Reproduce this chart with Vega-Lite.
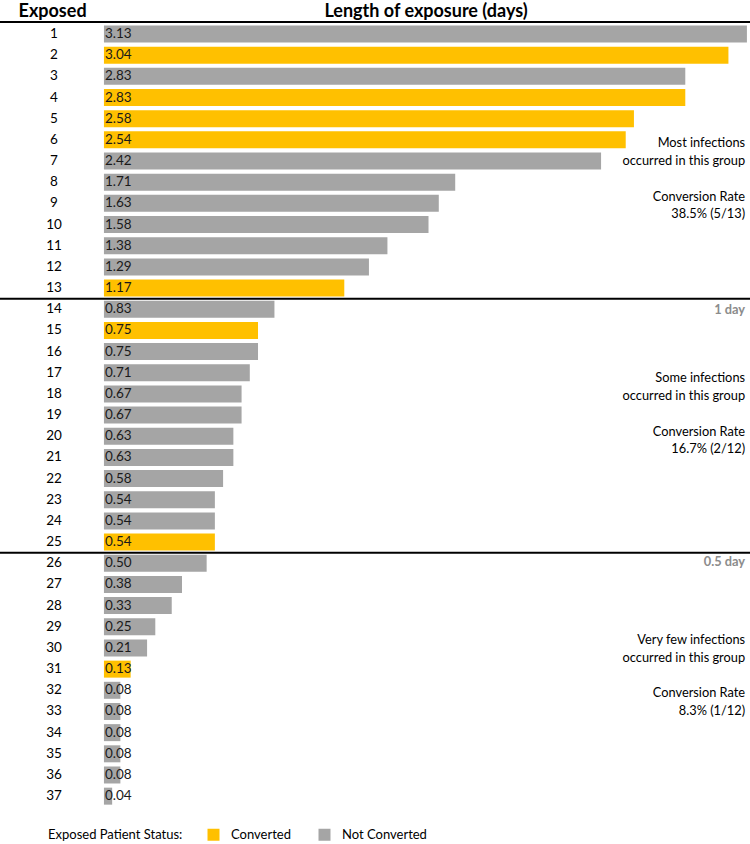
{
  "$schema": "https://vega.github.io/schema/vega-lite/v6.json",
  "width": 750,
  "height": 844,
  "autosize": "none",
  "padding": 0,
  "background": "white",
  "config": {"view": {"stroke": null}, "font": "Lato", "text": {"font": "Lato"}},
  "datasets": {
    "bars": [
      {"row": 1, "value": 3.13, "status": "Not Converted"},
      {"row": 2, "value": 3.04, "status": "Converted"},
      {"row": 3, "value": 2.83, "status": "Not Converted"},
      {"row": 4, "value": 2.83, "status": "Converted"},
      {"row": 5, "value": 2.58, "status": "Converted"},
      {"row": 6, "value": 2.54, "status": "Converted"},
      {"row": 7, "value": 2.42, "status": "Not Converted"},
      {"row": 8, "value": 1.71, "status": "Not Converted"},
      {"row": 9, "value": 1.63, "status": "Not Converted"},
      {"row": 10, "value": 1.58, "status": "Not Converted"},
      {"row": 11, "value": 1.38, "status": "Not Converted"},
      {"row": 12, "value": 1.29, "status": "Not Converted"},
      {"row": 13, "value": 1.17, "status": "Converted"},
      {"row": 14, "value": 0.83, "status": "Not Converted"},
      {"row": 15, "value": 0.75, "status": "Converted"},
      {"row": 16, "value": 0.75, "status": "Not Converted"},
      {"row": 17, "value": 0.71, "status": "Not Converted"},
      {"row": 18, "value": 0.67, "status": "Not Converted"},
      {"row": 19, "value": 0.67, "status": "Not Converted"},
      {"row": 20, "value": 0.63, "status": "Not Converted"},
      {"row": 21, "value": 0.63, "status": "Not Converted"},
      {"row": 22, "value": 0.58, "status": "Not Converted"},
      {"row": 23, "value": 0.54, "status": "Not Converted"},
      {"row": 24, "value": 0.54, "status": "Not Converted"},
      {"row": 25, "value": 0.54, "status": "Converted"},
      {"row": 26, "value": 0.50, "status": "Not Converted"},
      {"row": 27, "value": 0.38, "status": "Not Converted"},
      {"row": 28, "value": 0.33, "status": "Not Converted"},
      {"row": 29, "value": 0.25, "status": "Not Converted"},
      {"row": 30, "value": 0.21, "status": "Not Converted"},
      {"row": 31, "value": 0.13, "status": "Converted"},
      {"row": 32, "value": 0.08, "status": "Not Converted"},
      {"row": 33, "value": 0.08, "status": "Not Converted"},
      {"row": 34, "value": 0.08, "status": "Not Converted"},
      {"row": 35, "value": 0.08, "status": "Not Converted"},
      {"row": 36, "value": 0.08, "status": "Not Converted"},
      {"row": 37, "value": 0.04, "status": "Not Converted"}
    ],
    "separators": [{"row": 0.43}, {"row": 13.5}, {"row": 25.5}],
    "headers": [
      {"label": "Exposed", "at": -0.25, "row": -0.06},
      {"label": "Length of exposure (days)", "at": 1.568, "row": -0.06}
    ],
    "notes": [
      {"text": "Most infections", "row": 6.15},
      {"text": "occurred in this group", "row": 7.0},
      {"text": "Conversion Rate", "row": 8.7},
      {"text": "38.5% (5/13)", "row": 9.5},
      {"text": "Some infections", "row": 17.25},
      {"text": "occurred in this group", "row": 18.1},
      {"text": "Conversion Rate", "row": 19.8},
      {"text": "16.7% (2/12)", "row": 20.6},
      {"text": "Very few infections", "row": 29.63},
      {"text": "occurred in this group", "row": 30.47},
      {"text": "Conversion Rate", "row": 32.13},
      {"text": "8.3% (1/12)", "row": 32.98}
    ],
    "thresholds": [
      {"text": "1 day", "row": 14.04},
      {"text": "0.5 day", "row": 25.94}
    ]
  },
  "layer": [
    {
      "data": {"name": "bars"},
      "mark": {"type": "bar", "orient": "horizontal", "size": 17},
      "encoding": {
        "y": {"field": "row", "type": "quantitative", "scale": {"domain": [-0.606, 39.26], "reverse": true, "nice": false, "zero": false, "padding": 0}, "axis": null},
        "x": {"field": "value", "type": "quantitative", "scale": {"domain": [-0.506, 3.145], "nice": false, "zero": false, "padding": 0}, "axis": null},
        "x2": {"datum": 0},
        "color": {
          "field": "status", "type": "nominal",
          "scale": {"domain": ["Converted", "Not Converted"], "range": ["#FFC000", "#A5A5A5"]},
          "legend": {
            "orient": "none", "legendX": 48, "legendY": 828,
            "direction": "horizontal", "title": "Exposed Patient Status:",
            "titleOrient": "left", "titleFont": "Lato", "titleFontWeight": "normal", "titleFontSize": 13, "titleColor": "#000",
            "titlePadding": 24, "titleBaseline": "middle",
            "symbolType": "square", "symbolSize": 144, "symbolStrokeWidth": 0,
            "labelFont": "Lato", "labelFontSize": 13, "labelColor": "#000", "labelOffset": 11,
            "columnPadding": 27
          }
        }
      }
    },
    {
      "data": {"name": "bars"},
      "mark": {"type": "text", "align": "left", "baseline": "middle", "dx": 1, "fontSize": 13.5, "color": "#1a1a1a"},
      "encoding": {
        "y": {"field": "row", "type": "quantitative"},
        "x": {"datum": 0, "type": "quantitative"},
        "text": {"field": "value", "type": "quantitative", "format": ".2f"}
      }
    },
    {
      "data": {"name": "bars"},
      "mark": {"type": "text", "align": "center", "baseline": "middle", "fontSize": 13.5, "color": "#000"},
      "encoding": {
        "y": {"field": "row", "type": "quantitative"},
        "x": {"datum": -0.243, "type": "quantitative"},
        "text": {"field": "row", "type": "quantitative"}
      }
    },
    {
      "data": {"name": "separators"},
      "mark": {"type": "rule", "strokeWidth": 2, "color": "#000"},
      "encoding": {"y": {"field": "row", "type": "quantitative"}}
    },
    {
      "data": {"name": "headers"},
      "mark": {"type": "text", "align": "center", "baseline": "middle", "fontSize": 18, "fontWeight": "bold", "color": "#000"},
      "encoding": {
        "y": {"field": "row", "type": "quantitative"},
        "x": {"field": "at", "type": "quantitative"},
        "text": {"field": "label"}
      }
    },
    {
      "data": {"name": "notes"},
      "mark": {"type": "text", "align": "right", "baseline": "middle", "fontSize": 12.8, "color": "#000"},
      "encoding": {
        "y": {"field": "row", "type": "quantitative"},
        "x": {"datum": 3.121, "type": "quantitative"},
        "text": {"field": "text"}
      }
    },
    {
      "data": {"name": "thresholds"},
      "mark": {"type": "text", "align": "right", "baseline": "middle", "fontSize": 12.8, "fontWeight": "bold", "color": "#8c8c8c"},
      "encoding": {
        "y": {"field": "row", "type": "quantitative"},
        "x": {"datum": 3.121, "type": "quantitative"},
        "text": {"field": "text"}
      }
    }
  ]
}
